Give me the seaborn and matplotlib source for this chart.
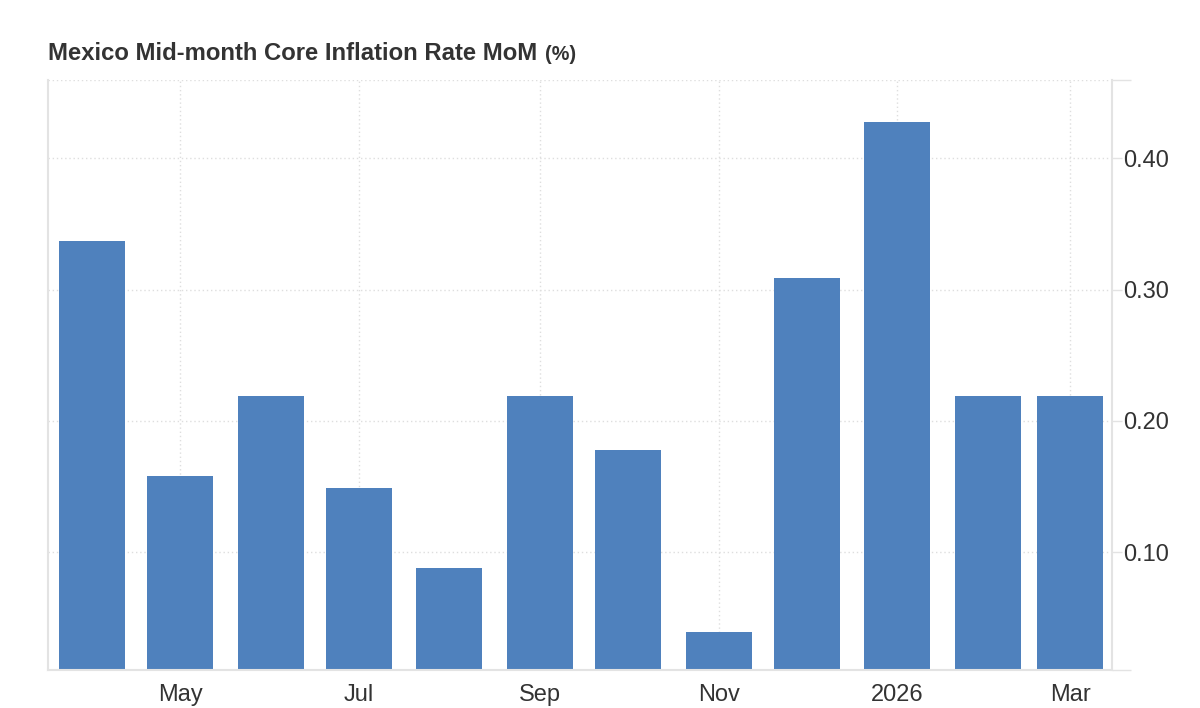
import numpy as np
import pandas as pd
import matplotlib
matplotlib.use("Agg")
import matplotlib.pyplot as plt
import matplotlib.dates as mdates
import seaborn as sns

# -----------------------------------------------------------------------------
# Datos
# -----------------------------------------------------------------------------
months = pd.date_range("2025-04-01", "2026-03-01", freq="MS")
values = [0.337, 0.158, 0.219, 0.149, 0.088, 0.219, 0.178, 0.039,
          0.309, 0.428, 0.219, 0.219]
tick_dates = ["2025-05-01", "2025-07-01", "2025-09-01",
              "2025-11-01", "2026-01-01", "2026-03-01"]
tick_labels = ["May", "Jul", "Sep", "Nov", "2026", "Mar"]
y_ticks = [0.10, 0.20, 0.30, 0.40]
title = "Mexico Mid-month Core Inflation Rate MoM"
unit = "(%)"

if __name__ == '__main__':

    sns.set_style("white")
    plt.rcParams['font.family'] = ['Liberation Sans', 'DejaVu Sans']

    df = pd.DataFrame({"date": mdates.date2num(months), "value": values})

    W, H = 1200, 708
    fig = plt.figure(figsize=(W / 100, H / 100), dpi=100)
    ax = fig.add_axes([48 / W, 38 / H, (1112 - 48) / W, (670 - 80) / H])

    sns.barplot(data=df, x="date", y="value", native_scale=True, orient="x",
                width=0.805, color="#4f81bd", saturation=1, linewidth=0,
                errorbar=None, ax=ax)

    grid_c = "#dedede"
    spine_c = "#e3e3e3"
    text_c = "#333333"

    x0 = mdates.date2num(pd.Timestamp("2025-05-01")) - 45.1
    x1 = mdates.date2num(pd.Timestamp("2026-03-01")) + 14.3
    y0, y1 = 0.0104, 0.4596
    ax.set_xlim(x0, x1)
    ax.set_ylim(y0, y1)

    ax.set_xticks(mdates.date2num(pd.to_datetime(tick_dates)))
    ax.set_xticklabels(tick_labels)
    ax.yaxis.tick_right()
    ax.set_yticks(y_ticks)
    ax.set_yticklabels([f"{v:.2f}" for v in y_ticks])
    ax.set_yticks([y0, y1], minor=True)

    ax.tick_params(axis='x', length=0, pad=10, labelsize=17, labelcolor=text_c)
    ax.tick_params(axis='y', which='major', length=7, width=1, color=spine_c,
                   pad=1, labelsize=17, labelcolor=text_c)
    ax.tick_params(axis='y', which='minor', length=14, width=1, color=spine_c)

    ax.set_axisbelow(True)
    ax.grid(True, axis='x', color=grid_c, linestyle=(0, (1, 2)), linewidth=1)
    ax.grid(True, axis='y', which='both', color=grid_c,
            linestyle=(0, (1, 2)), linewidth=1)

    ax.set_xlabel("")
    ax.set_ylabel("")
    for side in ['left', 'right', 'bottom']:
        ax.spines[side].set_color(spine_c)
        ax.spines[side].set_linewidth(1.5)
    ax.spines['top'].set_visible(False)

    # Título con la unidad en tamaño menor
    t = fig.text(48 / W, 1 - 60 / H, title, fontsize=17.2, fontweight='bold',
                 color=text_c, ha='left', va='baseline')
    fig.canvas.draw()
    bb = t.get_window_extent()
    fig.text((bb.x1 + 8) / W, 1 - 60 / H, unit, fontsize=14.3,
             fontweight='bold', color=text_c, ha='left', va='baseline')

    fig.savefig("out.png", dpi=100)
